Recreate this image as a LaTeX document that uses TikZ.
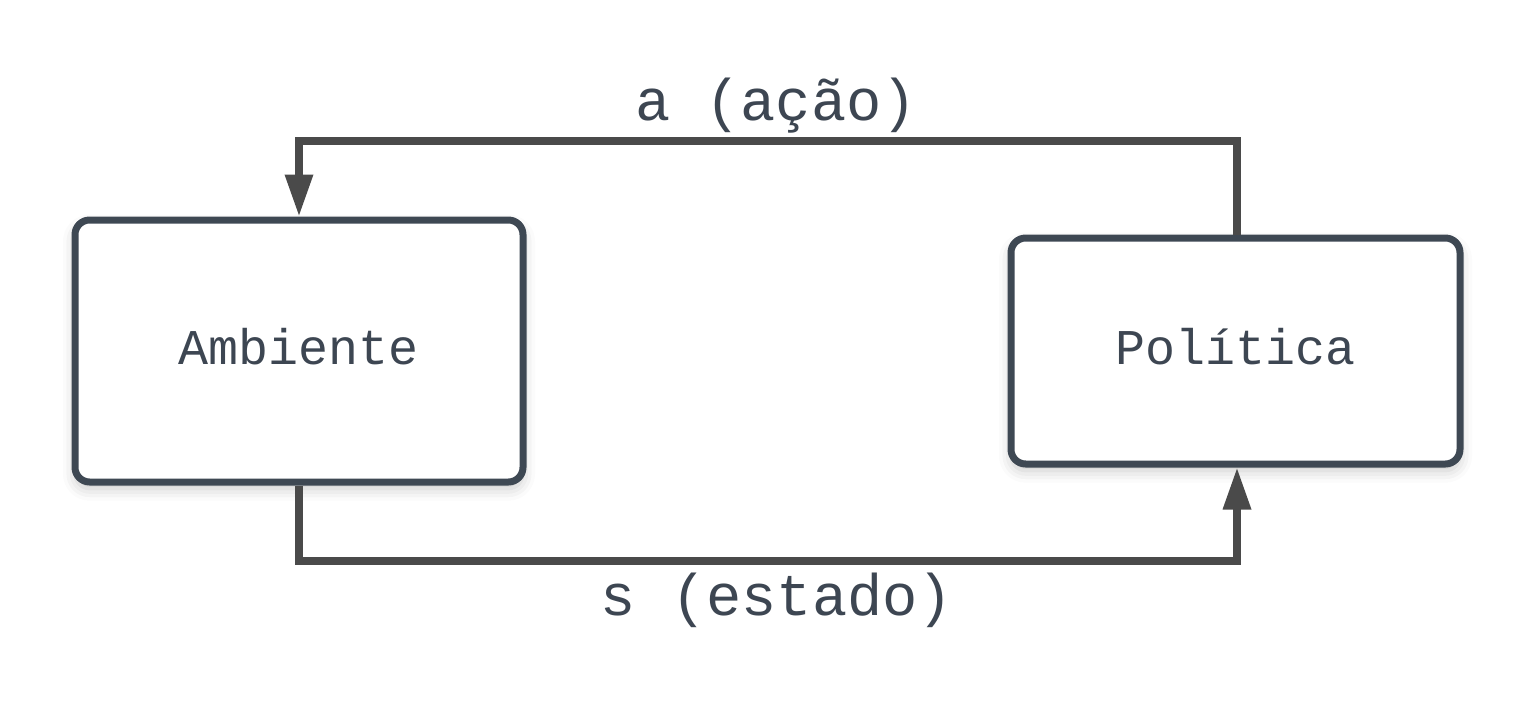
\documentclass[tikz,border=0pt]{standalone}
\usepackage{fontspec}
\setmonofont{Liberation Mono}
\usetikzlibrary{arrows.meta,shadows.blur}
\definecolor{boxline}{HTML}{3E4853}
\definecolor{txt}{HTML}{3D4652}
\definecolor{arr}{HTML}{4A4A4A}
\tikzset{
  box/.style={draw=boxline, line width=5.25pt, rounded corners=11pt, fill=white,
    font=\ttfamily\fontsize{37.5}{40}\selectfont, text=txt, text height=20pt, text depth=0pt,
    blur shadow={shadow xshift=0pt, shadow yshift=-5pt, shadow blur radius=9pt, shadow opacity=22}},
  conn/.style={draw=arr, line width=5.6pt, -{Triangle[length=31.5pt,width=20pt]}},
  lbl/.style={font=\ttfamily\fontsize{44}{46}\selectfont, text=txt, anchor=base, inner sep=0pt}
}
\begin{document}
\begin{tikzpicture}[x=0.75pt,y=-0.75pt]
\useasboundingbox (0,0) rectangle (1536,701);
\node[box, minimum width=336pt, minimum height=196.5pt] (amb) at (299,351) {Ambiente};
\node[box, minimum width=336.75pt, minimum height=169.5pt] (pol) at (1235.5,351) {Política};
\coordinate (tr) at (1237,141);
\coordinate (tl) at (299,141);
\coordinate (bl) at (299,561);
\coordinate (br) at (1237,561);
\draw[conn] (pol.north -| tr) -- (tr) -- (tl) -- (amb.north);
\draw[conn] (amb.south) -- (bl) -- (br) -- (pol.south -| br);
\node[lbl] (la) at (776,120) {a (ação)};
\node[lbl] (ls) at (777,615) {s (estado)};
\end{tikzpicture}
\end{document}
